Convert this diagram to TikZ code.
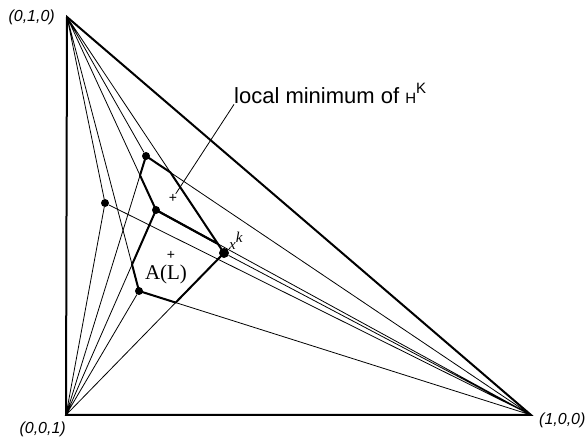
\documentclass[tikz,border=0pt]{standalone}
\usepackage{fontspec}
\setmainfont{Liberation Serif}
\setsansfont{Liberation Sans}
\usetikzlibrary{positioning}

\begin{document}
\begin{tikzpicture}[
      x=1pt, y=1pt,
      ray/.style={draw=black, line width=0.8pt},
      side/.style={draw=black, line width=2pt},
      edge/.style={draw=black, line width=2pt, line join=round},
      dot/.style={circle, fill=black, inner sep=0pt, minimum size=8pt},
      bigdot/.style={dot, minimum size=10pt},
      vlbl/.style={font=\sffamily\itshape\fontsize{16}{16}\selectfont, inner sep=0pt},
      ctr/.style={font=\sffamily\fontsize{14}{14}\selectfont, inner sep=0pt}
    ]
      \useasboundingbox (0,0) rectangle (587,443);

      \coordinate (T) at (67,426);
      \coordinate (BL) at (66,28);
      \coordinate (BR) at (531,28);

      \node[dot] (d1) at (146,287) {};
      \node[dot] (d2) at (105,240) {};
      \node[dot] (d3) at (156,233) {};
      \node[bigdot] (d4) at (224,190) {};
      \node[dot] (d5) at (139,152) {};

      \node[vlbl, left=12pt of T] (v1) {(0,1,0)};
      \node[vlbl, below left=7pt and 0pt of BL] (v2) {(0,0,1)};
      \node[vlbl, right=8pt of BR, yshift=-5pt] (v3) {(1,0,0)};

      \draw[ray] (T) -- (d1) (T) -- (d2) (T) -- (d3) (T) -- (d4) (T) -- (d5);
      \draw[ray] (BL) -- (d1) (BL) -- (d2) (BL) -- (d3) (BL) -- (d4) (BL) -- (d5);
      \draw[ray] (BR) -- (d1) (BR) -- (d2) (BR) -- (d3) (BR) -- (d4) (BR) -- (d5);
      \draw[side] (T) -- (BL) -- (BR) -- cycle;

      \coordinate (u1) at (intersection of T--d4 and BR--d1);
      \coordinate (u2) at (intersection of T--d4 and BR--d3);
      \coordinate (u3) at (intersection of T--d3 and BL--d1);
      \coordinate (w1) at (intersection of BL--d4 and BR--d5);
      \coordinate (w2) at (intersection of T--d5 and BL--d3);
      \draw[edge] (d1.center) -- (u1) -- (u2) -- (d3.center) -- (u3) -- cycle;
      \draw[edge] (d3.center) -- (u2) -- (d4.center) -- (w1) -- (d5.center) -- (w2) -- cycle;

      \node[anchor=base west, inner sep=0pt, font=\sffamily\fontsize{22}{22}\selectfont] (lmin) at (234,339)
        {local minimum of {\fontsize{15}{15}\selectfont H\raisebox{10pt}{K}}};
      \node[ctr] (cmin) at (173,245) {+};
      \node[ctr] (cal) at (171,188) {+};
      \draw[ray] (lmin.south west) -- (cmin);

      \node[inner sep=0pt, font=\fontsize{21}{21}\selectfont] (al) at (166,169) {A(L)};
      \node[anchor=base west, inner sep=0pt, font=\fontsize{15}{15}\selectfont] (xk) at (229,193)
        {\textit{x}\raisebox{7pt}{\textit{k}}};
    \end{tikzpicture}
\end{document}
